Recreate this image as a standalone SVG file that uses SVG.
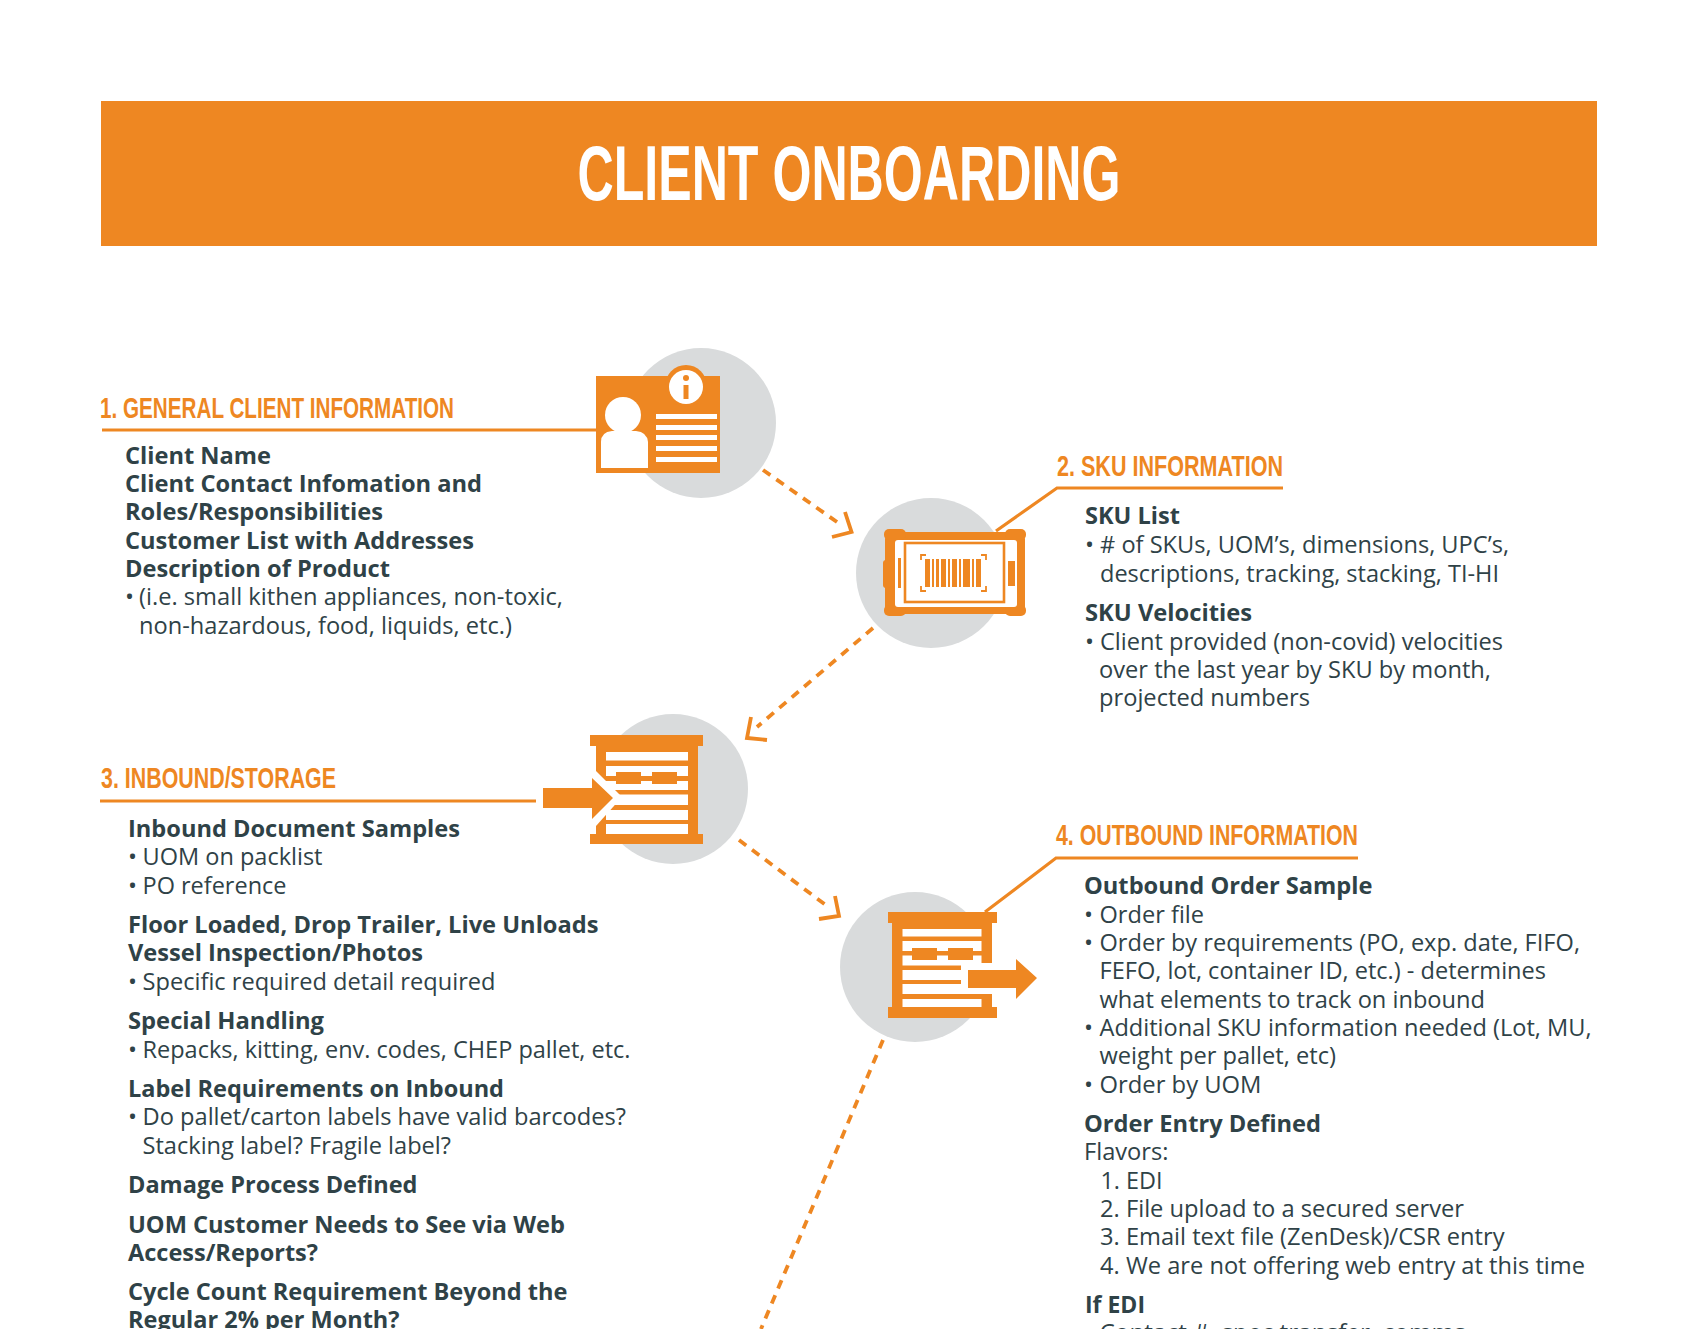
<svg xmlns="http://www.w3.org/2000/svg" width="1699" height="1329" viewBox="0 0 1699 1329">
<style>
.o{fill:#ee8722}.w{fill:#fff}.g{fill:#d9dbdc}
.h{font-family:"Liberation Sans",Arial,sans-serif;font-size:30px;font-weight:700;fill:#ee8722}
.b{font-family:"Open Sans","Noto Sans",sans-serif;font-size:24px;font-weight:700;fill:#2f4247}
.t{font-family:"Open Sans","Noto Sans",sans-serif;font-size:24px;font-weight:400;fill:#2f4247}
.r{fill:none;stroke:#ee8722;stroke-width:3.2}
.d{fill:none;stroke:#ee8722;stroke-width:3.8;stroke-dasharray:9 7.300}
.a{fill:none;stroke:#ee8722;stroke-width:3.8}
</style>
<g id="banner">
<rect class="o" x="101" y="101" width="1496" height="145"/>
<text x="577.500" y="200" font-family="Liberation Sans,Arial,sans-serif" font-size="78" font-weight="700" class="w" textLength="543" lengthAdjust="spacingAndGlyphs">CLIENT ONBOARDING</text>
</g>
<g id="connectors">
<path class="d" d="M763 470L837 522"/>
<path class="a" d="M845 512L851.500 532L832 537"/>
<path class="d" d="M873 628L757 727"/>
<path class="a" d="M751 717L747 738L767 740"/>
<path class="d" d="M739 840L827 906"/>
<path class="a" d="M835 896L839 916L819 919"/>
<path class="d" d="M883 1040L761 1329"/>
<path class="r" d="M102 430H596"/>
<path class="r" d="M1283 488H1057L996 531"/>
<path class="r" d="M100 801H536"/>
<path class="r" d="M1358 858H1056L985 912"/>
</g>
<g id="node1">
<circle class="g" cx="701" cy="423" r="75"/>
<rect class="o" x="596" y="376" width="124" height="97"/>
<circle class="o" cx="686" cy="386" r="21"/>
<circle class="w" cx="686" cy="387" r="17"/>
<rect class="o" x="683.500" y="385" width="5" height="14"/><circle class="o" cx="686" cy="378" r="3"/>
<circle class="w" cx="623" cy="415" r="18"/>
<path class="w" d="M601 468V442Q601 432 612 431H636Q647 432 648 442V468Z"/>
<rect class="w" x="656" y="414" width="61" height="5"/><rect class="w" x="656" y="425" width="61" height="5"/><rect class="w" x="656" y="435" width="61" height="5"/><rect class="w" x="656" y="446" width="61" height="5"/><rect class="w" x="656" y="457" width="61" height="5"/>
<text class="h" x="100" y="417.500" textLength="354" lengthAdjust="spacingAndGlyphs">1. GENERAL CLIENT INFORMATION</text>
<text class="b" x="125" y="464" textLength="146" lengthAdjust="spacingAndGlyphs">Client Name</text>
<text class="b" x="125" y="492" textLength="357" lengthAdjust="spacingAndGlyphs">Client Contact Infomation and</text>
<text class="b" x="125" y="520" textLength="258" lengthAdjust="spacingAndGlyphs">Roles/Responsibilities</text>
<text class="b" x="125" y="549" textLength="349" lengthAdjust="spacingAndGlyphs">Customer List with Addresses</text>
<text class="b" x="125" y="577" textLength="265" lengthAdjust="spacingAndGlyphs">Description of Product</text>
<text class="t" x="125" y="605">•</text>
<text class="t" x="139" y="605" textLength="424" lengthAdjust="spacingAndGlyphs">(i.e. small kithen appliances, non-toxic,</text>
<text class="t" x="139" y="634" textLength="373" lengthAdjust="spacingAndGlyphs">non-hazardous, food, liquids, etc.)</text>
</g>
<g id="node2">
<circle class="g" cx="931" cy="573" r="75"/>
<rect class="o" x="885" y="532" width="140" height="82" rx="7"/>
<g class="o"><rect x="884" y="529" width="22" height="11" rx="5"/><rect x="1005" y="529" width="21" height="11" rx="5"/><rect x="884" y="605" width="22" height="11" rx="5"/><rect x="1005" y="605" width="21" height="11" rx="5"/><rect x="883" y="560" width="8" height="28" rx="3"/></g>
<rect class="w" x="895" y="540" width="122" height="67" rx="3"/>
<rect x="905" y="543" width="99" height="59" fill="none" stroke="#ee8722" stroke-width="2.600"/>
<rect class="o" x="898" y="558" width="3" height="30"/><rect class="o" x="1008" y="561" width="7" height="25"/>
<path fill="none" stroke="#ee8722" stroke-width="1.800" d="M921 560V555H926M981 555H986V560M921 586V591H926M981 591H986V586"/>
<path class="o" d="M925 559h5v28h-5zM932 559h2v28h-2zM936 559h3v28h-3zM941 559h5v28h-5zM948 559h2v28h-2zM952 559h5v28h-5zM959 559h2v28h-2zM963 559h7v28h-7zM972 559h2v28h-2zM976 559h5v28h-5z"/>
<text class="h" x="1057" y="475.500" textLength="226" lengthAdjust="spacingAndGlyphs">2. SKU INFORMATION</text>
<text class="b" x="1085" y="524" textLength="95" lengthAdjust="spacingAndGlyphs">SKU List</text>
<text class="t" x="1085" y="553">•</text>
<text class="t" x="1100" y="553" textLength="409" lengthAdjust="spacingAndGlyphs"># of SKUs, UOM’s, dimensions, UPC’s,</text>
<text class="t" x="1100" y="582" textLength="399" lengthAdjust="spacingAndGlyphs">descriptions, tracking, stacking, TI-HI</text>
<text class="b" x="1085" y="621" textLength="167" lengthAdjust="spacingAndGlyphs">SKU Velocities</text>
<text class="t" x="1085" y="650">•</text>
<text class="t" x="1100" y="650" textLength="403" lengthAdjust="spacingAndGlyphs">Client provided (non-covid) velocities</text>
<text class="t" x="1099" y="678" textLength="392" lengthAdjust="spacingAndGlyphs">over the last year by SKU by month,</text>
<text class="t" x="1099" y="706" textLength="211" lengthAdjust="spacingAndGlyphs">projected numbers</text>
</g>
<g id="node3">
<circle class="g" cx="673" cy="789" r="75"/>
<rect class="o" x="596" y="746" width="102" height="88"/>
<rect class="o" x="590" y="735" width="113" height="11"/><rect class="o" x="590" y="834" width="113" height="10"/>
<g class="w"><rect x="606" y="752" width="82" height="8.500"/><rect x="606" y="766" width="82" height="10"/><rect x="606" y="781" width="82" height="9"/><rect x="606" y="794.500" width="82" height="10.500"/><rect x="606" y="810" width="82" height="10"/><rect x="606" y="824" width="82" height="10"/></g>
<rect class="o" x="616" y="772" width="25" height="12"/><rect class="o" x="652" y="772" width="25" height="12"/>
<path class="w" d="M590 771L596 771L622 797L596 826L590 826Z"/>
<path class="o" d="M543 788H592V778L613 798L592 819V808H543Z"/>
<text class="h" x="101" y="787.500" textLength="235" lengthAdjust="spacingAndGlyphs">3. INBOUND/STORAGE</text>
<text class="b" x="128" y="837" textLength="332" lengthAdjust="spacingAndGlyphs">Inbound Document Samples</text>
<text class="t" x="128" y="865">•</text><text class="t" x="142.500" y="865" textLength="180" lengthAdjust="spacingAndGlyphs">UOM on packlist</text>
<text class="t" x="128" y="894">•</text><text class="t" x="142.500" y="894" textLength="144" lengthAdjust="spacingAndGlyphs">PO reference</text>
<text class="b" x="128" y="933" textLength="470.500" lengthAdjust="spacingAndGlyphs">Floor Loaded, Drop Trailer, Live Unloads</text>
<text class="b" x="128" y="961" textLength="295" lengthAdjust="spacingAndGlyphs">Vessel Inspection/Photos</text>
<text class="t" x="128" y="990">•</text><text class="t" x="142.500" y="990" textLength="353" lengthAdjust="spacingAndGlyphs">Specific required detail required</text>
<text class="b" x="128" y="1029" textLength="196" lengthAdjust="spacingAndGlyphs">Special Handling</text>
<text class="t" x="128" y="1058">•</text><text class="t" x="142.500" y="1058" textLength="488" lengthAdjust="spacingAndGlyphs">Repacks, kitting, env. codes, CHEP pallet, etc.</text>
<text class="b" x="128" y="1097" textLength="376" lengthAdjust="spacingAndGlyphs">Label Requirements on Inbound</text>
<text class="t" x="128" y="1125">•</text><text class="t" x="142.500" y="1125" textLength="483.500" lengthAdjust="spacingAndGlyphs">Do pallet/carton labels have valid barcodes?</text>
<text class="t" x="142.500" y="1154" textLength="308.500" lengthAdjust="spacingAndGlyphs">Stacking label? Fragile label?</text>
<text class="b" x="128" y="1192.500" textLength="289.500" lengthAdjust="spacingAndGlyphs">Damage Process Defined</text>
<text class="b" x="128" y="1232.500" textLength="437" lengthAdjust="spacingAndGlyphs">UOM Customer Needs to See via Web</text>
<text class="b" x="128" y="1261" textLength="190" lengthAdjust="spacingAndGlyphs">Access/Reports?</text>
<text class="b" x="128" y="1299.500" textLength="439.500" lengthAdjust="spacingAndGlyphs">Cycle Count Requirement Beyond the</text>
<text class="b" x="128" y="1328" textLength="271.500" lengthAdjust="spacingAndGlyphs">Regular 2% per Month?</text>
</g>
<g id="node4">
<circle class="g" cx="915" cy="967" r="75"/>
<rect class="o" x="892" y="922" width="100" height="86"/>
<rect class="o" x="888" y="912" width="109" height="11"/><rect class="o" x="888" y="1007" width="109" height="11"/>
<g class="w"><rect x="902.500" y="929" width="79" height="7.500"/><rect x="902.500" y="941" width="79" height="10"/><rect x="902.500" y="955.500" width="79" height="10"/><rect x="902.500" y="970" width="79" height="10"/><rect x="902.500" y="984" width="79" height="10"/><rect x="902.500" y="999" width="79" height="8"/></g>
<rect class="o" x="912" y="948" width="25" height="12"/><rect class="o" x="948" y="948" width="25" height="12"/>
<rect class="w" x="961" y="963" width="32" height="31"/>
<path class="o" d="M968 970H1016V959L1037 978L1016 999V988H968Z"/>
<text class="h" x="1056" y="845" textLength="302" lengthAdjust="spacingAndGlyphs">4. OUTBOUND INFORMATION</text>
<text class="b" x="1084" y="894" textLength="288.500" lengthAdjust="spacingAndGlyphs">Outbound Order Sample</text>
<text class="t" x="1084" y="922.500">•</text><text class="t" x="1099.500" y="922.500" textLength="104.500" lengthAdjust="spacingAndGlyphs">Order file</text>
<text class="t" x="1084" y="951">•</text><text class="t" x="1099.500" y="951" textLength="480.500" lengthAdjust="spacingAndGlyphs">Order by requirements (PO, exp. date, FIFO,</text>
<text class="t" x="1099.500" y="979" textLength="446.500" lengthAdjust="spacingAndGlyphs">FEFO, lot, container ID, etc.) - determines</text>
<text class="t" x="1099.500" y="1007.500" textLength="385.500" lengthAdjust="spacingAndGlyphs">what elements to track on inbound</text>
<text class="t" x="1084" y="1035.500">•</text><text class="t" x="1099.500" y="1035.500" textLength="492" lengthAdjust="spacingAndGlyphs">Additional SKU information needed (Lot, MU,</text>
<text class="t" x="1099.500" y="1064" textLength="236.500" lengthAdjust="spacingAndGlyphs">weight per pallet, etc)</text>
<text class="t" x="1084" y="1092.500">•</text><text class="t" x="1099.500" y="1092.500" textLength="162" lengthAdjust="spacingAndGlyphs">Order by UOM</text>
<text class="b" x="1084" y="1131.500" textLength="237" lengthAdjust="spacingAndGlyphs">Order Entry Defined</text>
<text class="t" x="1084" y="1160" textLength="84.500" lengthAdjust="spacingAndGlyphs">Flavors:</text>
<text class="t" x="1100.500" y="1188.500" textLength="62" lengthAdjust="spacingAndGlyphs">1. EDI</text>
<text class="t" x="1100" y="1217" textLength="364" lengthAdjust="spacingAndGlyphs">2. File upload to a secured server</text>
<text class="t" x="1100" y="1245" textLength="404.500" lengthAdjust="spacingAndGlyphs">3. Email text file (ZenDesk)/CSR entry</text>
<text class="t" x="1100" y="1273.500" textLength="485" lengthAdjust="spacingAndGlyphs">4. We are not offering web entry at this time</text>
<text class="b" x="1085" y="1313" textLength="60" lengthAdjust="spacingAndGlyphs">If EDI</text>
<text class="t" x="1084" y="1341">•</text><text class="t" x="1099.500" y="1341" textLength="366" lengthAdjust="spacingAndGlyphs">Contact #, spec transfer, comms</text>
</g>
</svg>
